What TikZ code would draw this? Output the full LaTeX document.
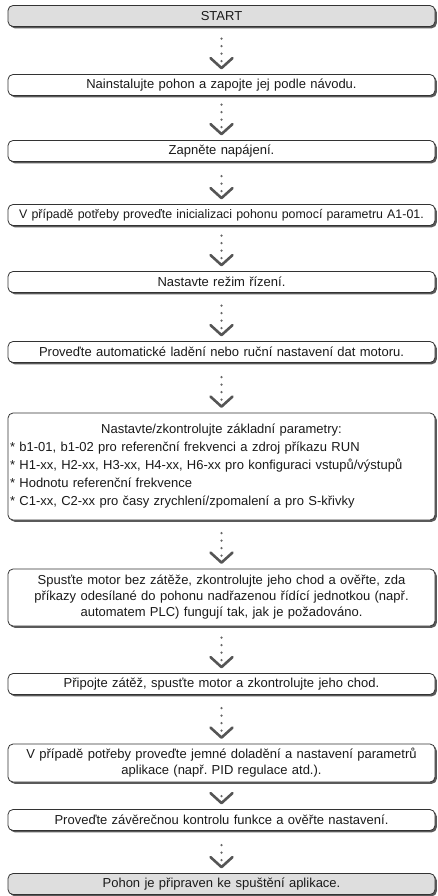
\documentclass[tikz,border=0pt]{standalone}
\usepackage{fontspec}
\setmainfont{Liberation Sans}
\usetikzlibrary{calc,shadows}
\frenchspacing
\definecolor{edgec}{HTML}{333333}
\definecolor{txtc}{HTML}{1A1A1A}
\definecolor{shadowc}{HTML}{5A5A5A}
\definecolor{termfill}{HTML}{DEDEDE}
\definecolor{dotc}{HTML}{666666}
\definecolor{chevc}{HTML}{555555}
\tikzset{
  stepbox/.style={draw=edgec, line width=0.8pt, rounded corners=5pt, fill=white,
    minimum width=427pt, text width=423pt, align=center, inner sep=2pt,
    font=\fontsize{13}{16}\selectfont\frenchspacing, text=txtc,
    drop shadow={shadow xshift=1.8pt, shadow yshift=-1.8pt, fill=shadowc, opacity=1}},
  termbox/.style={stepbox, fill=termfill},
  dotsline/.style={draw=dotc, line width=2.5pt, line cap=round, dash pattern=on 0pt off 7.5pt},
  chev/.style={draw=chevc, line width=2.6pt, line cap=round, line join=round},
}
\newcommand\flowarrow[2]{%
  \draw[dotsline] ($(#2.north)+(0,13)$) -- ($(#1.south)+(0,-8)$);
  \draw[chev] ($(#2.north)+(-11,16)$) -- ($(#2.north)+(0,6)$) -- ($(#2.north)+(11,16)$);
}
\begin{document}
\begin{tikzpicture}[x=1pt,y=1pt]
\useasboundingbox (0,0) rectangle (438,-896);
\node[termbox, minimum height=21pt] (s) at (221.5,-16) {START};
\node[stepbox, minimum height=21pt] (n1) at (221.5,-85) {Nainstalujte pohon a zapojte jej podle návodu.};
\node[stepbox, minimum height=21pt] (n2) at (221.5,-151) {Zapněte napájení.};
\node[stepbox, minimum height=21pt, font=\fontsize{12.4}{16}\selectfont] (n3) at (221.5,-215) {\makebox[423pt][c]{V případě potřeby proveďte inicializaci pohonu pomocí parametru A1-01.}};
\node[stepbox, minimum height=21pt] (n4) at (221.5,-282) {Nastavte režim řízení.};
\node[stepbox, minimum height=21pt] (n5) at (221.5,-352) {Proveďte automatické ladění nebo ruční nastavení dat motoru.};
\node[stepbox, minimum height=107pt, align=left, font=\fontsize{13}{18}\selectfont] (n6) at (221.5,-466.5)
  {\makebox[423pt][c]{Nastavte/zkontrolujte základní parametry:}\\
   {*} b1-01, b1-02 pro referenční frekvenci a zdroj příkazu RUN\\
   {*} H1-xx, H2-xx, H3-xx, H4-xx, H6-xx pro konfiguraci vstupů/výstupů\\
   {*} Hodnotu referenční frekvence\\
   {*} C1-xx, C2-xx pro časy zrychlení/zpomalení a pro S-křivky};
\node[stepbox, minimum height=57pt] (n7) at (221.5,-597.5)
  {Spusťte motor bez zátěže, zkontrolujte jeho chod a ověřte, zda\\
   příkazy odesílané do pohonu nadřazenou řídící jednotkou (např.\\
   automatem PLC) fungují tak, jak je požadováno.};
\node[stepbox, minimum height=21pt] (n8) at (221.5,-684) {Připojte zátěž, spusťte motor a zkontrolujte jeho chod.};
\node[stepbox, minimum height=38pt] (n9) at (221.5,-763)
  {V případě potřeby proveďte jemné doladění a nastavení parametrů\\
   aplikace (např. PID regulace atd.).};
\node[stepbox, minimum height=21pt] (n10) at (221.5,-820) {Proveďte závěrečnou kontrolu funkce a ověřte nastavení.};
\node[termbox, minimum height=21pt] (e) at (221.5,-884) {Pohon je připraven ke spuštění aplikace.};
\flowarrow{s}{n1}
\flowarrow{n1}{n2}
\flowarrow{n2}{n3}
\flowarrow{n3}{n4}
\flowarrow{n4}{n5}
\flowarrow{n5}{n6}
\flowarrow{n6}{n7}
\flowarrow{n7}{n8}
\flowarrow{n8}{n9}
\flowarrow{n9}{n10}
\flowarrow{n10}{e}
\end{tikzpicture}
\end{document}
